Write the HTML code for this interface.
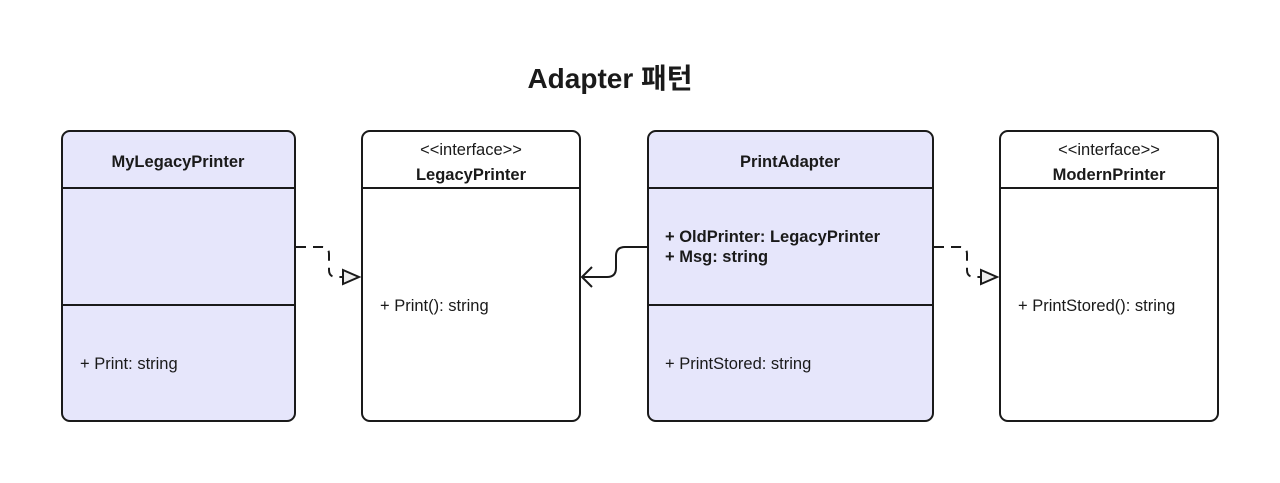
<!DOCTYPE html>
<html><head><meta charset="utf-8"><style>
body{margin:0;background:#fff}
svg{display:block}
text{font-family:"Liberation Sans","Noto Sans CJK KR",sans-serif;fill:#1a1a1a}
</style></head><body>
<svg width="1280" height="483" viewBox="0 0 1280 483">
<rect width="1280" height="483" fill="#fff"/>
<text x="610" y="88" font-size="28" font-weight="bold" text-anchor="middle">Adapter 패턴</text>
<g stroke="#1a1a1a" stroke-width="2">
<rect x="62" y="131" width="233" height="290" rx="8" fill="#e6e6fb"/>
<line x1="62" y1="188" x2="295" y2="188"/><line x1="62" y1="305" x2="295" y2="305"/>
<rect x="362" y="131" width="218" height="290" rx="8" fill="#fff"/>
<line x1="362" y1="188" x2="580" y2="188"/>
<rect x="648" y="131" width="285" height="290" rx="8" fill="#e6e6fb"/>
<line x1="648" y1="188" x2="933" y2="188"/><line x1="648" y1="305" x2="933" y2="305"/>
<rect x="1000" y="131" width="218" height="290" rx="8" fill="#fff"/>
<line x1="1000" y1="188" x2="1218" y2="188"/>
<path d="M296 247 H322 Q329 247 329 254 V270 Q329 277 336 277 H343" fill="none" stroke-dasharray="10 7"/>
<path d="M343 270 L359 277 L343 284 Z" fill="#eee"/>
<path d="M934 247 H960 Q967 247 967 254 V270 Q967 277 974 277 H981" fill="none" stroke-dasharray="10 7"/>
<path d="M981 270 L997 277 L981 284 Z" fill="#eee"/>
<path d="M647 247 H625 Q616 247 616 256 V268 Q616 277 607 277 H582" fill="none"/>
<path d="M592 267 L582 277 L592 287" fill="none"/>
</g>
<g font-size="16.5">
<text x="178" y="167" text-anchor="middle" font-weight="bold">MyLegacyPrinter</text>
<text x="80" y="369">+ Print: string</text>
<text x="471" y="155" text-anchor="middle">&lt;&lt;interface&gt;&gt;</text>
<text x="471" y="180" text-anchor="middle" font-weight="bold">LegacyPrinter</text>
<text x="380" y="311">+ Print(): string</text>
<text x="790" y="167" text-anchor="middle" font-weight="bold">PrintAdapter</text>
<text x="665" y="242" font-weight="bold">+ OldPrinter: LegacyPrinter</text>
<text x="665" y="262" font-weight="bold">+ Msg: string</text>
<text x="665" y="369">+ PrintStored: string</text>
<text x="1109" y="155" text-anchor="middle">&lt;&lt;interface&gt;&gt;</text>
<text x="1109" y="180" text-anchor="middle" font-weight="bold">ModernPrinter</text>
<text x="1018" y="311">+ PrintStored(): string</text>
</g>
</svg>
</body></html>
